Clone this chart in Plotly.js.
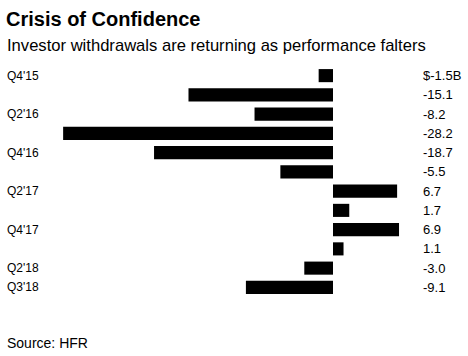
<!DOCTYPE html>
<html><head><meta charset="utf-8">
<script src="https://cdn.plot.ly/plotly-3.0.1.min.js"></script>
<style>html,body{margin:0;padding:0;background:#fff}#chart{width:468px;height:356px}</style>
</head><body><div id="chart"></div>
<script>
const quarters = ["Q4'15","Q1'16","Q2'16","Q3'16","Q4'16","Q1'17","Q2'17","Q3'17","Q4'17","Q1'18","Q2'18","Q3'18"];
const flows = [-1.5,-15.1,-8.2,-28.2,-18.7,-5.5,6.7,1.7,6.9,1.1,-3.0,-9.1];
const shownQuarters = ["Q4'15","Q2'16","Q4'16","Q2'17","Q4'17","Q2'18","Q3'18"];

const font = "Liberation Sans, Arial, Helvetica, sans-serif";
const annotations = [];
quarters.forEach((q,i)=>{
  if (shownQuarters.includes(q)) {
    annotations.push({x:0, xref:'paper', y:q, yref:'y', text:q, showarrow:false, xanchor:'left', yanchor:'middle', xshift:-2, font:{family:font,size:12,color:'#000'}});
  }
  const lbl = (i===0 ? '$' : '') + flows[i].toFixed(1) + (i===0 ? 'B' : '');
  annotations.push({x:0.9024, xref:'paper', y:q, yref:'y', text:lbl, showarrow:false, xanchor:'left', yanchor:'middle', xshift:-2, font:{family:font,size:13,color:'#000'}});
});
annotations.push({xref:'paper', yref:'paper', x:0, y:1+(66-45)/231, xanchor:'left', yanchor:'middle', xshift:-2, text:'Investor withdrawals are returning as performance falters', showarrow:false, font:{family:font,size:16.6,color:'#000'}});
annotations.push({xref:'paper', yref:'paper', x:0, y:-(343-297)/231, xanchor:'left', yanchor:'middle', xshift:-2, text:'Source: HFR', showarrow:false, font:{family:font,size:14,color:'#000'}});

const pxPerUnit = 9.57;
const layout = {
  width:468, height:356,
  margin:{l:7,r:0,t:66,b:59},
  paper_bgcolor:'#fff', plot_bgcolor:'#fff',
  showlegend:false,
  bargap:0.32,
  xaxis:{range:[(7-333)/pxPerUnit, (468-333)/pxPerUnit], visible:false, fixedrange:true},
  yaxis:{type:'category', categoryorder:'array', categoryarray:quarters, autorange:false, range:[11.5,-0.5], visible:false},
  annotations:annotations,
  title:{text:'<b>Crisis of Confidence</b>', x:6/468, xanchor:'left', xref:'container', yref:'container', y:1-26/356, yanchor:'bottom', font:{family:font,size:20,color:'#000'}}
};

Plotly.newPlot('chart',[{type:'bar', orientation:'h', y:quarters, x:flows, marker:{color:'#000'}, hoverinfo:'none'}], layout, {staticPlot:true});
</script></body></html>
